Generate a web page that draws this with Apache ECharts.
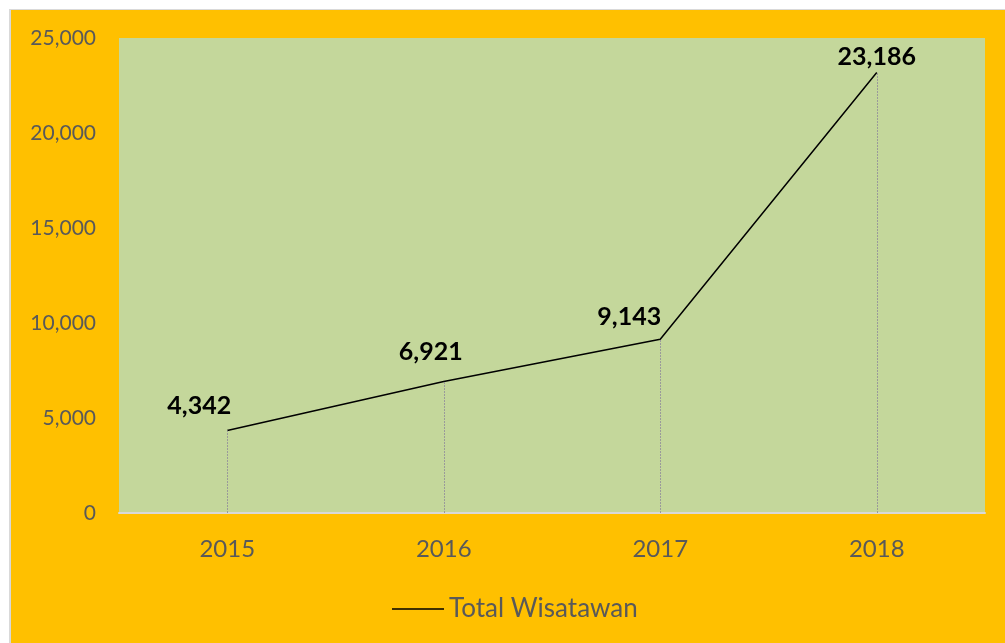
<!DOCTYPE html>
<html>
<head>
<meta charset="utf-8">
<script src="https://cdn.jsdelivr.net/npm/echarts@6/dist/echarts.min.js"></script>
<style>
  html, body { margin: 0; padding: 0; background: #ffffff; }
  #chart {
    position: absolute;
    left: 9px;
    top: 9px;
    width: 995px;
    height: 633px;
    border-left: 2px solid #d9d9d9;
    border-top: 1px solid #d9d9d9;
    background: #ffc000;
  }
</style>
</head>
<body>
<div id="chart"></div>
<script>
const years = ['2015', '2016', '2017', '2018']
const totalWisatawan = [4342, 6921, 9143, 23186]
const seriesName = 'Total Wisatawan'

// hand-placed label offsets, like the original chart
const labelOffsets = [[-28, -7], [-13, -12], [-31, -5], [0, 2]]

let chart = echarts.init(document.getElementById('chart'))

let points = totalWisatawan.map((v, i) => ({
  value: v,
  label: { offset: labelOffsets[i] }
}))

let dropLines = totalWisatawan.map((v, i) => [
  { coord: [i, 0] },
  { coord: [i, v] }
])

let option = {
  animation: false,
  backgroundColor: 'transparent',
  textStyle: { fontFamily: 'Lato, "Open Sans", sans-serif' },
  grid: {
    left: 108,
    top: 28,
    width: 866,
    height: 475,
    show: true,
    backgroundColor: '#c4d79b',
    borderWidth: 0
  },
  legend: {
    data: [seriesName],
    top: 581,
    left: 376,
    icon: 'rect',
    itemWidth: 52,
    itemHeight: 1.5,
    itemGap: 6,
    textStyle: { color: '#595959', fontSize: 26, fontFamily: 'Lato, sans-serif' }
  },
  xAxis: {
    type: 'category',
    data: years,
    boundaryGap: true,
    axisLine: { lineStyle: { color: '#d9d9d9', width: 2 } },
    axisTick: { show: false },
    axisLabel: { color: '#595959', fontSize: 24, margin: 24 }
  },
  yAxis: {
    type: 'value',
    min: 0,
    max: 25000,
    interval: 5000,
    splitLine: { show: false },
    axisLine: { show: false },
    axisTick: { show: false },
    axisLabel: {
      color: '#595959',
      fontSize: 21,
      margin: 23,
      formatter: v => v.toLocaleString('en-US')
    }
  },
  series: [
    {
      name: seriesName,
      type: 'line',
      data: points,
      showSymbol: true,
      symbol: 'circle',
      symbolSize: 0,
      lineStyle: { color: '#000000', width: 1.5 },
      itemStyle: { color: '#000000' },
      label: {
        show: true,
        position: 'top',
        color: '#000000',
        fontWeight: 'bold',
        fontSize: 25,
        formatter: p => p.value.toLocaleString('en-US')
      },
      markLine: {
        silent: true,
        symbol: 'none',
        label: { show: false },
        lineStyle: { color: '#9a9a9a', type: [2, 1], width: 1 },
        data: dropLines
      }
    }
  ]
}

chart.setOption(option)
</script>
</body>
</html>
